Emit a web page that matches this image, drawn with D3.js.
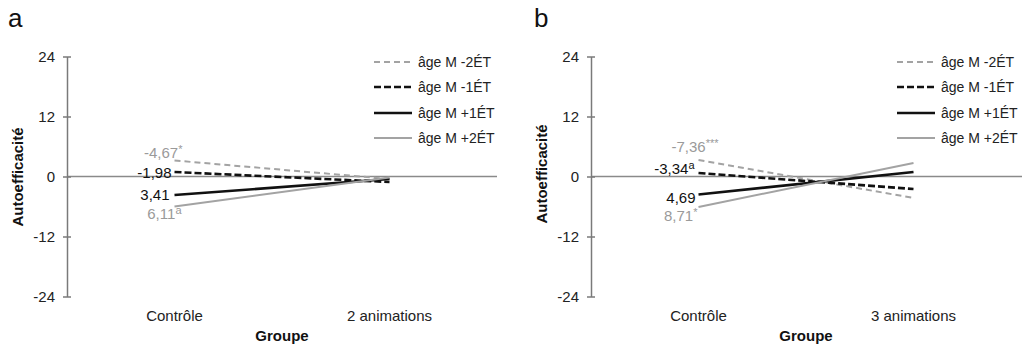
<!DOCTYPE html>
<html>
<head>
<meta charset="utf-8">
<script src="https://cdn.jsdelivr.net/npm/d3@7"></script>
<style>
html,body{margin:0;padding:0;background:#fff;}
svg{display:block;font-family:"Liberation Sans",Arial,sans-serif;}
</style>
</head>
<body>
<svg id="chart" width="1022" height="351"></svg>
<script>
// ---- data ----
const categoriesA = ["Contrôle", "2 animations"];
const categoriesB = ["Contrôle", "3 animations"];
const seriesNames = ["âge M -2ÉT", "âge M -1ÉT", "âge M +1ÉT", "âge M +2ÉT"];
const yTicks = [24, 12, 0, -12, -24];

const panelA_m2 = [3.2, -0.5];
const panelA_m1 = [0.9, -1.1];
const panelA_p1 = [-3.7, -0.5];
const panelA_p2 = [-6.0, -0.2];

const panelB_m2 = [3.3, -4.3];
const panelB_m1 = [0.7, -2.5];
const panelB_p1 = [-3.6, 0.9];
const panelB_p2 = [-6.1, 2.7];

const labelsA = ["-4,67", "-1,98", "3,41", "6,11"];
const supA = ["*", "", "", "a"];
const labelsB = ["-7,36", "-3,34", "4,69", "8,71"];
const supB = ["***", "a", "", "*"];

// ---- styles / layout ----
const seriesStyle = [
  {color: "#a3a3a3", width: 2, dash: "6,4"},
  {color: "#111111", width: 2.6, dash: "7,3"},
  {color: "#111111", width: 2.6, dash: null},
  {color: "#a3a3a3", width: 2, dash: null}
];
const labelColors = ["#9a9a9a", "#111111", "#111111", "#9a9a9a"];

const svg = d3.select("#chart");
const y = d3.scaleLinear().domain([-24, 24]).range([296.5, 56.5]);

function drawPanel(cfg) {
  const g = svg.append("g");
  const x = d3.scaleBand().domain(cfg.categories).range([cfg.axisX, cfg.axisX + 430]).padding(0);
  const cx = c => x(c) + x.bandwidth() / 2;

  // panel letter
  g.append("text").attr("x", cfg.letterX).attr("y", 27)
    .attr("font-size", 26).attr("fill", "#111").text(cfg.letter);

  // zero line
  g.append("line").attr("x1", cfg.axisX).attr("x2", cfg.zeroEnd)
    .attr("y1", y(0)).attr("y2", y(0))
    .attr("stroke", "#8a8a8a").attr("stroke-width", 1.5);

  // y axis
  const axis = d3.axisLeft(y).tickValues(yTicks).tickSize(0).tickPadding(12)
    .tickFormat(d => d3.format("d")(d).replace("−", "-"));
  const ag = g.append("g").attr("transform", `translate(${cfg.axisX},0)`).call(axis);
  ag.select(".domain").attr("stroke", "#7a7a7a").attr("stroke-width", 1.5);
  ag.selectAll(".tick text").attr("font-size", 15).attr("fill", "#222")
    .attr("font-family", "Liberation Sans, Arial, sans-serif");
  ag.selectAll(".tick").append("line").attr("x1", -4).attr("x2", 4)
    .attr("stroke", "#7a7a7a").attr("stroke-width", 1.5);

  // y title
  g.append("text")
    .attr("transform", `translate(${cfg.titleX},${cfg.titleY}) rotate(-90)`)
    .attr("text-anchor", "middle").attr("font-size", 15).attr("font-weight", "bold")
    .attr("fill", "#111").text("Autoefficacité");

  // category labels
  cfg.categories.forEach(c => {
    g.append("text").attr("x", cx(c)).attr("y", 321).attr("text-anchor", "middle")
      .attr("font-size", 15).attr("fill", "#222").text(c);
  });
  g.append("text").attr("x", cfg.axisX + 215).attr("y", 341).attr("text-anchor", "middle")
    .attr("font-size", 15).attr("font-weight", "bold").attr("fill", "#111").text("Groupe");

  // series lines
  const line = d3.line().x(d => cx(d.c)).y(d => y(d.v));
  cfg.series.forEach((vals, i) => {
    const pts = vals.map((v, j) => ({c: cfg.categories[j], v}));
    const st = seriesStyle[i];
    g.append("path").datum(pts).attr("d", line).attr("fill", "none")
      .attr("stroke", st.color).attr("stroke-width", st.width)
      .attr("stroke-dasharray", st.dash);
  });

  // annotations
  cfg.labels.forEach((lab, i) => {
    const t = g.append("text")
      .attr("x", cx(cfg.categories[0]) + cfg.labelDx[i])
      .attr("y", y(cfg.series[i][0]) + cfg.labelDy[i])
      .attr("text-anchor", "end").attr("font-size", 15).attr("fill", labelColors[i]);
    t.append("tspan").text(lab);
    if (cfg.sups[i]) t.append("tspan").attr("dy", -5).attr("font-size", 11).text(cfg.sups[i]);
  });

  // legend
  const legY = [62, 87, 113, 138];
  seriesNames.forEach((name, i) => {
    const st = seriesStyle[i];
    g.append("line").attr("x1", cfg.legendX).attr("x2", cfg.legendX + 38)
      .attr("y1", legY[i]).attr("y2", legY[i])
      .attr("stroke", st.color).attr("stroke-width", st.width)
      .attr("stroke-dasharray", st.dash);
    g.append("text").attr("x", cfg.legendX + 44).attr("y", legY[i] + 5)
      .attr("font-size", 14).attr("fill", "#222").text(name);
  });
}

drawPanel({
  letter: "a", letterX: 8, axisX: 67, zeroEnd: 497, titleX: 23, titleY: 177,
  categories: categoriesA,
  series: [panelA_m2, panelA_m1, panelA_p1, panelA_p2],
  labels: labelsA, sups: supA,
  labelDx: [8, -3, -5, 7], labelDy: [-3, 6, 5, 12],
  legendX: 374
});
drawPanel({
  letter: "b", letterX: 534, axisX: 591, zeroEnd: 1022, titleX: 547, titleY: 174,
  categories: categoriesB,
  series: [panelB_m2, panelB_m1, panelB_p1, panelB_p2],
  labels: labelsB, sups: supB,
  labelDx: [20, -4, -3, -1], labelDy: [-8, 1, 8, 14],
  legendX: 897
});
</script>
</body>
</html>
